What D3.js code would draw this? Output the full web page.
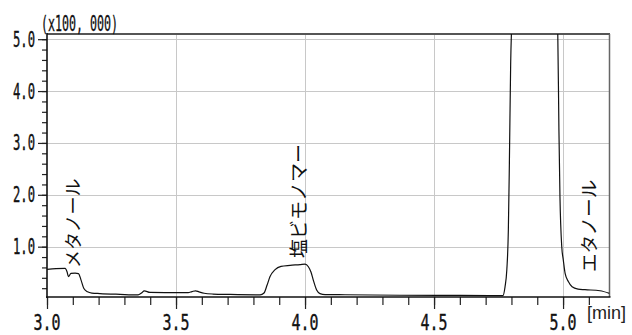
<!DOCTYPE html>
<html>
<head>
<meta charset="utf-8">
<script src="https://cdn.jsdelivr.net/npm/d3@7/dist/d3.min.js"></script>
<style>
html,body{margin:0;padding:0;background:#fff;}
svg{display:block;}
</style>
</head>
<body>
<script>
// ---- data ----
const times = [3.000,3.035,3.070,3.078,3.083,3.093,3.109,3.122,3.132,3.143,3.157,3.174,3.205,3.283,3.353,3.366,3.377,3.399,3.457,3.547,3.562,3.576,3.589,3.609,3.643,3.709,3.826,3.841,3.853,3.864,3.884,3.907,3.942,3.981,4.000,4.013,4.023,4.032,4.045,4.058,4.078,4.155,4.368,4.601,4.767,4.775,4.782,4.788,4.792,4.797,4.801,4.890,4.979,4.984,4.988,4.995,5.001,5.008,5.021,5.035,5.058,5.085,5.143,5.180];
const intensity = [0.563,0.578,0.582,0.511,0.424,0.486,0.491,0.482,0.356,0.193,0.131,0.106,0.096,0.081,0.071,0.106,0.150,0.119,0.116,0.116,0.135,0.150,0.129,0.102,0.087,0.079,0.071,0.106,0.260,0.420,0.559,0.620,0.640,0.655,0.665,0.613,0.511,0.356,0.164,0.096,0.077,0.073,0.064,0.060,0.056,0.222,0.549,1.320,2.611,4.538,5.300,14.0,5.300,3.247,1.961,0.998,0.742,0.486,0.324,0.227,0.183,0.171,0.150,0.100];
const xTickLabels = ["3.0","3.5","4.0","4.5","5.0"];
const xTickValues = [3.0,3.5,4.0,4.5,5.0];
const yTickLabels = ["1.0","2.0","3.0","4.0","5.0"];
const yTickValues = [1,2,3,4,5];
const peakNames = ["メタノール","塩ビモノマー","エタノール"];
const peakTimes = [3.097,3.969,5.093];
const peakLabelBase = [0.59,0.78,0.51];
const yUnitLabel = "(x100, 000)";
const xUnitLabel = "[min]";

// ---- layout ----
const W = 632, H = 335;
const L = 47, R = 609.5, T = 34, B = 297;
const svg = d3.select("body").append("svg").attr("width", W).attr("height", H);

const x = d3.scaleLinear().domain([3.0, 5.18]).range([L, R]);
const y = d3.scaleLinear().domain([0.03, 5.1]).range([B, T]);

// grid
const grid = svg.append("g").attr("stroke", "#c8c8c8").attr("stroke-width", 1);
grid.selectAll("line.v").data(xTickValues.slice(1)).join("line")
  .attr("x1", d => Math.round(x(d)) + 0.5).attr("x2", d => Math.round(x(d)) + 0.5)
  .attr("y1", T).attr("y2", B);
grid.selectAll("line.h").data(yTickValues).join("line")
  .attr("y1", d => Math.round(y(d)) + 0.5).attr("y2", d => Math.round(y(d)) + 0.5)
  .attr("x1", L).attr("x2", R);

// frame (top, right)
svg.append("line").attr("x1", L).attr("x2", R + 0.5).attr("y1", T).attr("y2", T)
  .attr("stroke", "#555").attr("stroke-width", 2);
svg.append("line").attr("x1", R).attr("x2", R).attr("y1", T).attr("y2", B)
  .attr("stroke", "#666").attr("stroke-width", 1.5);

// trace
svg.append("clipPath").attr("id", "clip").append("rect")
  .attr("x", L).attr("y", T).attr("width", R - L).attr("height", B - T);
const pts = times.map((t, i) => [t, intensity[i]]);
svg.append("path").datum(pts)
  .attr("clip-path", "url(#clip)")
  .attr("fill", "none").attr("stroke", "#111").attr("stroke-width", 1.2)
  .attr("d", d3.line().x(d => x(d[0])).y(d => y(d[1])).curve(d3.curveMonotoneX));

// axes
const minorX = d3.range(0, 22).map(i => 3.0 + i * 0.1);
const xAxisMinor = d3.axisBottom(x).tickValues(minorX).tickSize(8).tickFormat("");
const xAxisMajor = d3.axisBottom(x).tickValues(xTickValues).tickSize(12).tickFormat("");
const gxm = svg.append("g").attr("transform", `translate(0,${B})`).call(xAxisMinor);
const gxM = svg.append("g").attr("transform", `translate(0,${B})`).call(xAxisMajor);
[gxm, gxM].forEach(g => {
  g.select(".domain").remove();
  g.selectAll(".tick line").attr("stroke", "#222").attr("stroke-width", 1.2);
});

const minorY = d3.range(1, 26).map(i => i * 0.2);
const yAxisMinor = d3.axisLeft(y).tickValues(minorY).tickSize(5).tickFormat("");
const yAxisMajor = d3.axisLeft(y).tickValues(yTickValues).tickSize(9).tickFormat("");
const gym = svg.append("g").attr("transform", `translate(${L},0)`).call(yAxisMinor);
const gyM = svg.append("g").attr("transform", `translate(${L},0)`).call(yAxisMajor);
[gym, gyM].forEach(g => {
  g.select(".domain").remove();
  g.selectAll(".tick line").attr("stroke", "#222").attr("stroke-width", 1.2);
});

// axis lines
svg.append("line").attr("x1", L).attr("x2", L).attr("y1", T - 1).attr("y2", B + 1)
  .attr("stroke", "#111").attr("stroke-width", 1.6);
svg.append("line").attr("x1", L - 1).attr("x2", R + 1).attr("y1", B).attr("y2", B)
  .attr("stroke", "#111").attr("stroke-width", 1.6);

const numFont = "'DejaVu Sans Mono', monospace";
// x tick labels
svg.append("g").selectAll("text").data(xTickValues).join("text")
  .attr("x", d => x(d)).attr("y", 330)
  .attr("text-anchor", "middle")
  .attr("font-family", numFont).attr("font-size", 21)
  .attr("textLength", 27).attr("lengthAdjust", "spacingAndGlyphs")
  .attr("fill", "#111").attr("stroke", "#111").attr("stroke-width", 0.4)
  .text((d, i) => xTickLabels[i]);
// y tick labels
svg.append("g").selectAll("text").data(yTickValues).join("text")
  .attr("x", 35).attr("y", d => y(d) + 7.5)
  .attr("text-anchor", "end")
  .attr("font-family", numFont).attr("font-size", 20.5)
  .attr("textLength", 22).attr("lengthAdjust", "spacingAndGlyphs")
  .attr("fill", "#111").attr("stroke", "#111").attr("stroke-width", 0.4)
  .text((d, i) => yTickLabels[i]);

// unit labels
svg.append("text").attr("x", 41).attr("y", 31)
  .attr("font-family", numFont).attr("font-size", 20.5)
  .attr("textLength", 77).attr("lengthAdjust", "spacingAndGlyphs")
  .attr("fill", "#111").attr("stroke", "#111").attr("stroke-width", 0.3)
  .text(yUnitLabel);
svg.append("text").attr("x", 587).attr("y", 319)
  .attr("font-family", "'Liberation Sans', Arial, sans-serif").attr("font-size", 18)
  .attr("fill", "#222").text(xUnitLabel);

// peak labels (rotated)
const fs = [18, 19, 18.6];
svg.append("g").selectAll("text").data(peakNames).join("text")
  .attr("transform", (d, i) => `translate(${x(peakTimes[i])},${y(peakLabelBase[i])}) rotate(-90)`)
  .attr("dominant-baseline", "central")
  .attr("font-family", "'Noto Sans CJK JP', sans-serif")
  .attr("font-size", (d, i) => fs[i])
  .attr("fill", "#111")
  .text(d => d);
</script>
</body>
</html>
